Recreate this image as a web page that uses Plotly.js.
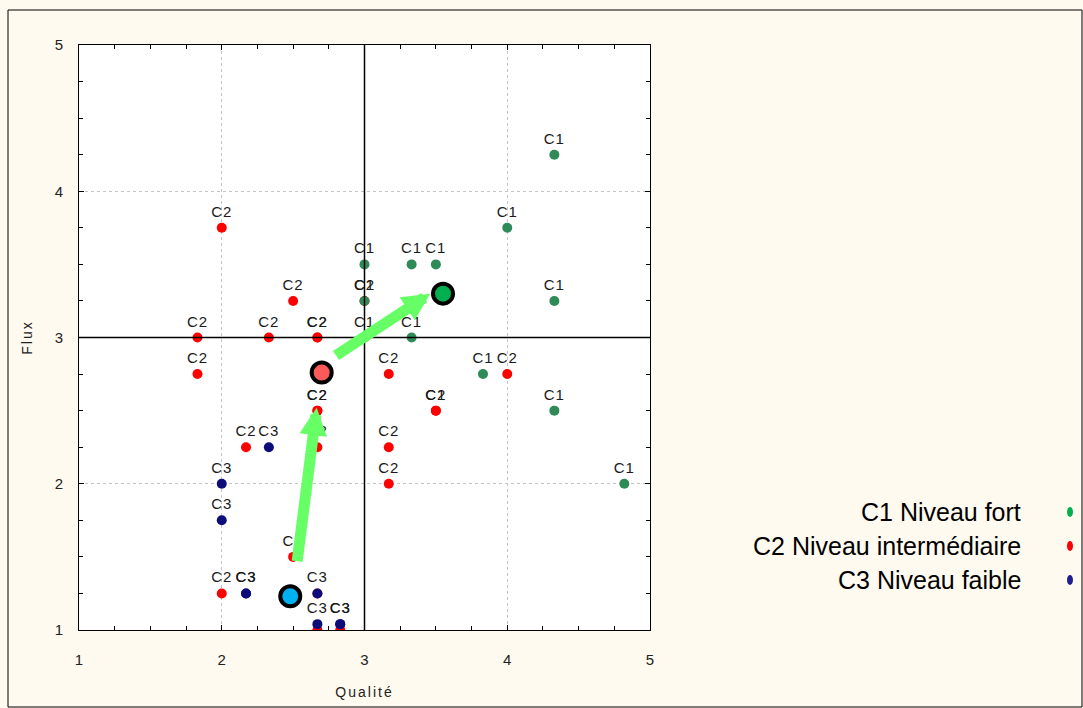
<!DOCTYPE html>
<html><head><meta charset="utf-8">
<script src="https://cdn.plot.ly/plotly-3.0.1.min.js"></script>
<style>
html,body{margin:0;padding:0;background:#FFFAF0}
.textpoint text{letter-spacing:1px}
.xtitle,.ytitle{letter-spacing:2px}
</style>
</head><body><div id="chart" style="width:1083px;height:708px"></div>
<script>
// ---- data ----
const seriesNames = ['C1 Niveau fort', 'C2 Niveau intermédiaire', 'C3 Niveau faible'];

const c1X = [4.33, 4.0, 3.0, 3.33, 3.5, 4.33, 3.0, 3.0, 3.33, 3.83, 4.33, 4.82];
const c1Y = [4.25, 3.75, 3.5, 3.5, 3.5, 3.25, 3.25, 3.0, 3.0, 2.75, 2.5, 2.0];
const c1Labels = ['C1','C1','C1','C1','C1','C1','C1','C1','C1','C1','C1','C1'];

const c2X = [2.0, 2.5, 1.83, 2.33, 2.67, 2.67, 3.0, 1.83, 3.17, 4.0, 2.67, 2.67, 3.5, 3.5, 2.17, 2.67, 3.17, 3.17, 2.5, 2.0, 2.67, 2.67, 2.83];
const c2Y = [3.75, 3.25, 3.0, 3.0, 3.0, 3.0, 3.25, 2.75, 2.75, 2.75, 2.5, 2.5, 2.5, 2.5, 2.25, 2.25, 2.25, 2.0, 1.5, 1.25, 1.25, 1.0, 1.0];
const c2Labels = ['C2','C2','C2','C2','C2','C2','C2','C2','C2','C2','C2','C2','C2','C1','C2','C2','C2','C2','C2','C2','','',''];

const c3X = [2.33, 2.0, 2.0, 2.17, 2.17, 2.67, 2.67, 2.83, 2.83];
const c3Y = [2.25, 2.0, 1.75, 1.25, 1.25, 1.25, 1.04, 1.04, 1.04];
const c3Labels = ['C3','C3','C3','C3','C3','C3','C3','C3','C3'];

// class centroids (C1, C2, C3)
const centroidX = [3.55, 2.70, 2.48];
const centroidY = [3.30, 2.76, 1.23];

// arrows: C3 -> C2, C2 -> C1
const arrowFromX = [2.527, 2.79];
const arrowFromY = [1.46, 2.87];
const arrowToX = [2.665, 3.46];
const arrowToY = [2.52, 3.30];

const xTicks = [1, 2, 3, 4, 5];
const yTicks = [1, 2, 3, 4, 5];
const splitX = 3, splitY = 3;

// ---- styles ----
const pointColors = ['#2E8B57', '#FF0000', '#0D0D7A'];
const legendColors = ['#00B050', '#FF0000', '#1F1F8F'];
const centroidColors = ['#00B050', '#FF5A5A', '#00B0F0'];
const font = 'Arial, "Liberation Sans", sans-serif';

function pts(x, y, labels, color) {
  return {
    type: 'scatter', mode: 'markers+text', x: x, y: y, text: labels,
    textposition: 'top center',
    textfont: {family: font, size: 15, color: '#1a1a1a'},
    marker: {size: 10, color: color, line: {width: 0}},
    hoverinfo: 'x+y', showlegend: false
  };
}

const traces = [
  pts(c2X, c2Y, c2Labels, pointColors[1]),
  pts(c1X, c1Y, c1Labels, pointColors[0]),
  pts(c3X, c3Y, c3Labels, pointColors[2]),
  {
    type: 'scatter', mode: 'markers', x: centroidX, y: centroidY,
    marker: {size: 20, color: centroidColors, line: {width: 4, color: '#000'}},
    showlegend: false, hoverinfo: 'x+y'
  }
];

// plot area pixel geometry
const L = 79, R = 433, T = 45, B = 78, W = 1083, H = 708;
const pw = W - L - R, ph = H - T - B;
const px = v => (v - L) / pw;
const py = v => (H - B - v) / ph;

const annotations = [];
for (let i = 0; i < arrowToX.length; i++) {
  annotations.push({
    x: arrowToX[i], y: arrowToY[i], ax: arrowFromX[i], ay: arrowFromY[i],
    xref: 'x', yref: 'y', axref: 'x', ayref: 'y',
    showarrow: true, arrowhead: 2, arrowsize: 0.5, arrowwidth: 11,
    arrowcolor: '#66FF66', text: ''
  });
}
const shapes = [
  {type: 'line', xref: 'x', yref: 'y', x0: splitX, x1: splitX, y0: 1, y1: 5, line: {color: '#000', width: 1.5}},
  {type: 'line', xref: 'x', yref: 'y', x0: 1, x1: 5, y0: splitY, y1: splitY, line: {color: '#000', width: 1.5}},
  {type: 'rect', xref: 'paper', yref: 'paper', x0: px(8), x1: px(1082), y0: py(707), y1: py(10), line: {color: '#000', width: 1}, layer: 'below'}
];
seriesNames.forEach((name, i) => {
  const yc = 512 + i * 34;
  annotations.push({
    xref: 'paper', yref: 'paper', x: px(1023), y: py(yc), xanchor: 'right', yanchor: 'middle',
    text: name, showarrow: false, font: {family: font, size: 25, color: '#000'}
  });
  shapes.push({
    type: 'circle', xref: 'paper', yref: 'paper',
    x0: px(1067), x1: px(1073), y0: py(yc + 5), y1: py(yc - 5),
    fillcolor: legendColors[i], line: {width: 0}
  });
});

const axisCommon = {
  range: [1, 5], tickmode: 'array', showline: true, linecolor: '#000', linewidth: 1,
  mirror: 'ticks', ticks: 'inside', ticklen: 5, tickcolor: '#000', tickwidth: 1,
  showgrid: true, gridcolor: '#c4c4c4', griddash: 'dot', gridwidth: 1, zeroline: false,
  minor: {dtick: 0.25, tick0: 1, ticks: 'inside', ticklen: 4, tickcolor: '#000', showgrid: false},
  tickfont: {family: font, size: 15, color: '#222'}, fixedrange: true
};

const layout = {
  width: W, height: H, margin: {l: L, r: R, t: T, b: B},
  paper_bgcolor: '#FFFAF0', plot_bgcolor: '#FFFFFF',
  xaxis: Object.assign({}, axisCommon, {
    tickvals: xTicks, ticktext: xTicks.map(String), ticklabelstandoff: 16,
    title: {text: 'Qualité', font: {family: font, size: 14, color: '#222'}, standoff: 20}
  }),
  yaxis: Object.assign({}, axisCommon, {
    tickvals: yTicks, ticktext: yTicks.map(String), ticklabelstandoff: 12,
    title: {text: 'Flux', font: {family: font, size: 14, color: '#222'}, standoff: 18}
  }),
  shapes: shapes, annotations: annotations, showlegend: false
};

Plotly.newPlot('chart', traces, layout, {displayModeBar: false, staticPlot: true});
</script></body></html>
